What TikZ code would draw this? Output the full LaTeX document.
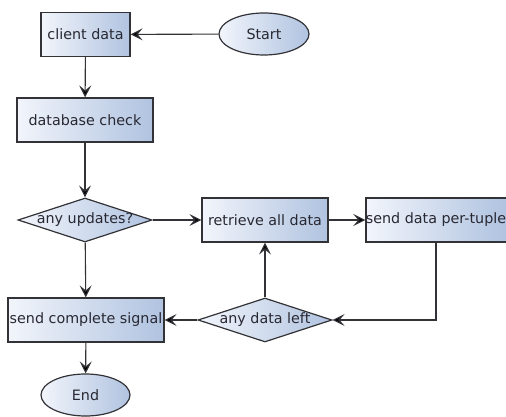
\documentclass[tikz,border=0pt]{standalone}
\usepackage{fontspec}
\setmainfont{DejaVu Sans}
\usetikzlibrary{arrows.meta,shapes.geometric,positioning,calc}

\definecolor{boxlight}{RGB}{242,245,251}
\definecolor{boxdark}{RGB}{176,195,224}
\definecolor{edge}{RGB}{50,50,55}
\definecolor{ink}{RGB}{40,40,50}

\newcommand{\boxfont}{\fontsize{14.3}{17}\selectfont}

\tikzset{
  stepbox/.style={draw=edge,line width=1.2pt,left color=boxlight,right color=boxdark,
    minimum height=44pt,inner sep=0pt,font=\boxfont,text=ink},
  termbox/.style={stepbox,ellipse,minimum width=90pt,minimum height=42pt},
  testbox/.style={stepbox,diamond,minimum width=134pt,minimum height=44pt},
  testtext/.style={font=\boxfont,text=ink},
  flow/.style={draw=edge,line width=1.1pt,-{Stealth[length=12pt,width=12pt,inset=5pt,fill=black]}},
}

\begin{document}
\begin{tikzpicture}[x=1pt,y=-1pt]
    \useasboundingbox (0,0) rectangle (506,417);
    \clip (0,0) rectangle (506,417);
    % left column
    \node[stepbox,minimum width=89pt] (client) at (85.5,34.5) {client data};
    \node[termbox] (start) at (264,34) {Start};
    \node[stepbox,minimum width=136pt] (dbcheck) at (85,120) {database check};
    \node[testbox,label={[testtext]center:any updates?}] (updates) at (85,220) {};
    \node[stepbox,minimum width=156pt] (signal) at (86,320) {send complete signal};
    \node[termbox,minimum width=89pt] (finish) at (85.5,395) {End};
    % loop over the data
    \node[stepbox,minimum width=126pt] (retrieve) at (265,220) {retrieve all data};
    \node[stepbox,minimum width=140pt] (tuple) at (436,220) {send data per-tuple};
    \node[testbox,label={[testtext]center:any data left}] (left) at (265,320) {};
    % connectors
    \draw[flow] (start) -- (client);
    \draw[flow] (client) -- (dbcheck);
    \draw[flow] (dbcheck) -- (updates);
    \draw[flow] (updates) -- (retrieve);
    \draw[flow] (retrieve) -- (tuple);
    \draw[flow] (tuple.south) |- (left.east);
    \draw[flow] (left) -- (retrieve);
    \draw[flow] (left) -- (signal);
    \draw[flow] (updates) -- (signal);
    \draw[flow] (signal) -- (finish);
\end{tikzpicture}
\end{document}
